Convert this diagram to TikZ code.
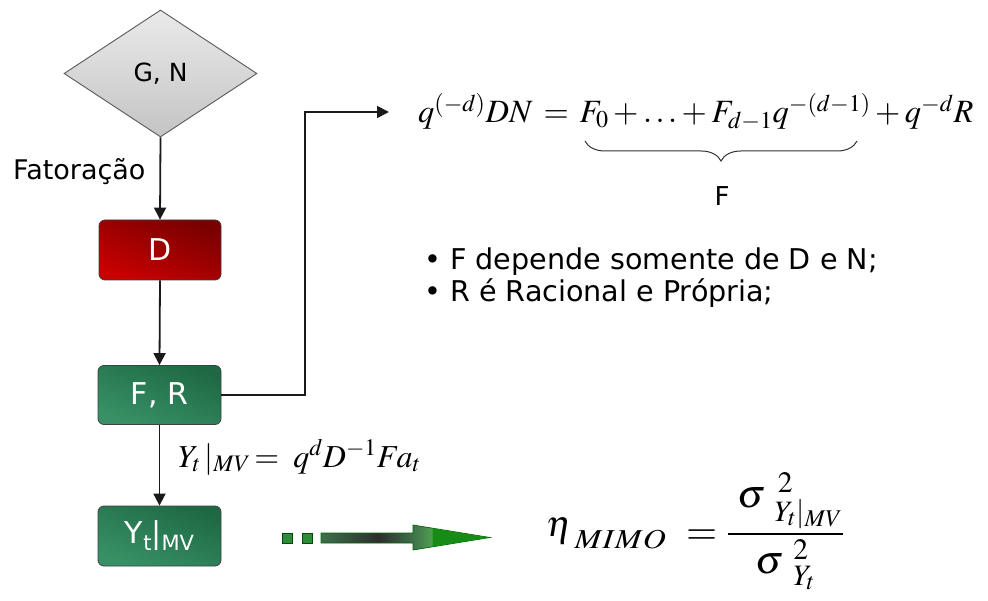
\documentclass[tikz,border=0pt]{standalone}
\usepackage{mathptmx}
\usepackage{graphicx}
\usepackage[no-math]{fontspec}
\setmainfont{DejaVu Sans}
\usetikzlibrary{shapes.geometric,arrows.meta,decorations.pathreplacing}
\definecolor{lgrey}{HTML}{1A1A1A}
\definecolor{diamtop}{HTML}{EAEAEA}
\definecolor{diambot}{HTML}{C4C4C4}
\definecolor{redtop}{HTML}{7A0000}
\definecolor{redbot}{HTML}{C80000}
\definecolor{grntop}{HTML}{1E6944}
\definecolor{grnbot}{HTML}{389166}
\definecolor{sqgreen}{HTML}{2F8A3C}
\definecolor{headgreen}{HTML}{168C16}
\definecolor{shA}{HTML}{3F6E4C}
\definecolor{shB}{HTML}{2E2E2E}
\definecolor{shC}{HTML}{4E9E4E}
\pgfdeclarehorizontalshading{arrsh}{100bp}{color(0bp)=(shA); color(25bp)=(shA); color(42bp)=(shB); color(52bp)=(shA); color(57.8bp)=(shC); color(100bp)=(shC)}
\tikzset{
  conn/.style={draw=lgrey, line width=1.8pt, -{Triangle[length=12pt,width=12pt]}},
  decision/.style={diamond, draw=black!65, line width=0.9pt, top color=diamtop, bottom color=diambot,
     minimum width=193pt, minimum height=127pt, inner sep=0pt, font=\fontsize{25}{27}\selectfont},
  redbox/.style={rounded corners=6pt, draw=black!75, line width=0.8pt, top color=redtop, bottom color=redbot,
     shading angle=-22, minimum width=122pt, minimum height=60pt, text=white, font=\fontsize{30}{32}\selectfont},
  greenbox/.style={rounded corners=6pt, draw=black!75, line width=0.8pt, top color=grntop, bottom color=grnbot,
     shading angle=-22, minimum width=123pt, minimum height=59pt, text=white, font=\fontsize{30}{32}\selectfont},
  sqbox/.style={draw=black!70!green, line width=0.9pt, fill=sqgreen, minimum size=10pt, inner sep=0pt},
  lbl/.style={font=\fontsize{27}{29}\selectfont, inner sep=0pt},
  bul/.style={font=\fontsize{28.6}{30}\selectfont, inner sep=0pt, anchor=base west},
  eq/.style={inner sep=0pt, anchor=base west}
}
\begin{document}
\begin{tikzpicture}[x=1pt,y=-1pt]
\useasboundingbox (0,0) rectangle (988,601);
% nodes
\node[decision] (gn) at (160.5,73.5) {G, N};
\node[redbox] (d) at (160,250) {D};
\node[greenbox] (fr) at (159.5,395) {F, R};
\node[greenbox, minimum height=60pt] (y) at (159.5,536) {Y\raisebox{-0.22em}{\fontsize{21}{21}\selectfont t}|\raisebox{-0.22em}{\fontsize{21}{21}\selectfont MV}};
% labels
\node[lbl, anchor=base west] (fat) at (13,180) {Fatoração};
% connectors
\draw[conn] (gn.south) -- (d.north);
\draw[conn] (d.south) -- (fr.north);
\draw[conn] (fr.south) -- (y.north);
\coordinate (eqin) at (389,112);
\draw[conn] (fr.east) -| (305,112) -- (eqin);
% top equation
\node[eq] (topeq) at (418,123) {\fontsize{32.5}{35}\selectfont $q^{(-d)}DN\,=\,F_0 + \ldots + F_{d-1}q^{-(d-1)} + q^{-d}R$};
\coordinate (brl) at (585,141);
\coordinate (brr) at (857,141);
\draw[black!80, line width=1pt, decorate, decoration={brace, mirror, amplitude=20pt}] (brl) -- (brr);
\node[lbl, font=\fontsize{26}{28}\selectfont] (flbl) at (722,196) {F};
% bullets
\node[bul] (b1) at (424,270) {• F depende somente de D e N;};
\node[bul] (b2) at (424,302) {• R é Racional e Própria;};
% Y equation
\node[eq] (yeq) at (178,467) {\fontsize{32}{34}\selectfont $Y_t\,|_{MV}\!=\; q^dD^{-1}Fa_t$};
% dotted arrow
\node[sqbox] (s1) at (287,538) {};
\node[sqbox] (s2) at (307.5,538) {};
\path[shading=arrsh, draw=black!60!green, line width=0.7pt] (321,533) -- (413,533) -- (413,525) -- (490,537.5) -- (413,550) -- (413,543) -- (321,543) -- cycle;
\fill[headgreen] (432.5,528.3) -- (489,537.5) -- (432.5,546.7) -- cycle;
% efficiency formula
\node[eq] (eta) at (546,536) {\fontsize{37}{40}\selectfont $\eta_{\;\raisebox{-0.2em}{\scalebox{1.17}[1]{$\scriptstyle MIMO$}}}$};
\node[eq] (eqs) at (686,544) {\fontsize{40}{42}\selectfont $=$};
\node[eq] (frac) at (727,544) {\fontsize{40}{42}\selectfont ${\displaystyle\frac{\;\sigma\;{}^{\,2}_{Y_t|_{MV}}}{\sigma\;{}^{2}_{Y_t}}}$};
\end{tikzpicture}
\end{document}
